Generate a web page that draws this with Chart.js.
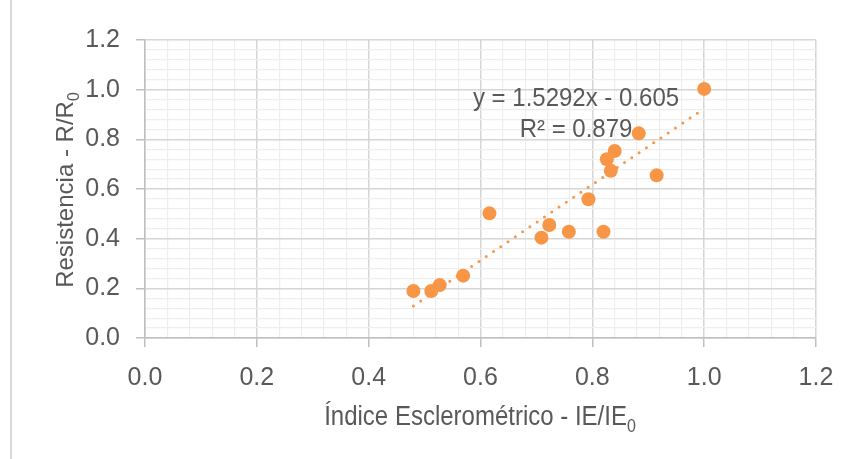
<!DOCTYPE html>
<html><head><meta charset="utf-8">
<script src="https://cdn.jsdelivr.net/npm/chart.js@4.4.1/dist/chart.umd.min.js"></script>
<style>
html,body{margin:0;padding:0;background:#fff;}
#wrap{position:relative;width:847px;height:459px;overflow:hidden;}
#border{position:absolute;left:10px;top:0;width:2px;height:459px;background:#d9d9d9;}
canvas{position:absolute;left:0;top:0;}
</style></head><body>
<div id="wrap"><div id="border"></div><canvas id="c" width="847" height="459"></canvas></div>
<script>
// Measured points (Índice Esclerométrico IE/IE0 vs Resistencia R/R0)
const xValues = [1.0, 0.883, 0.840, 0.826, 0.833, 0.915, 0.793, 0.616, 0.723, 0.709, 0.758, 0.820, 0.569, 0.527, 0.512, 0.480];
const yValues = [1.003, 0.824, 0.753, 0.720, 0.673, 0.655, 0.559, 0.502, 0.455, 0.404, 0.428, 0.428, 0.251, 0.213, 0.189, 0.189];
// Linear trendline end points (y = 1.5292x - 0.605)
const trendX = [0.48, 1.0];
const trendY = [0.129, 0.924];
const xTickLabels = ['0.0', '0.2', '0.4', '0.6', '0.8', '1.0', '1.2'];
const yTickLabels = ['0.0', '0.2', '0.4', '0.6', '0.8', '1.0', '1.2'];
const equationLines = ['y = 1.5292x - 0.605', 'R² = 0.879'];
const xTitleParts = ['Índice Esclerométrico - IE/IE', '0'];
const yTitleParts = ['Resistencia - R/R', '0'];

const TEXT = '#595959';
const ORANGE = '#F79646';
const FONT = "'Liberation Sans', Arial, sans-serif";
const MAJOR = '#d6d6d6', MINOR = '#eeeeee', AXIS = '#bfbfbf';

const points = xValues.map((x, i) => ({x, y: yValues[i]}));
const trend = trendX.map((x, i) => ({x, y: trendY[i]}));

function gridOpts() {
  return {
    color: c => (c.index % 5 === 0 ? MAJOR : MINOR),
    lineWidth: c => (c.index % 5 === 0 ? 1.5 : 1.2),
    tickColor: c => (c.index % 5 === 0 ? AXIS : 'rgba(0,0,0,0)'),
    tickLength: 9,
    tickWidth: 1.5
  };
}

function stretchedText(ctx, txt, x, y, sy) {
  ctx.save();
  ctx.translate(x, y);
  ctx.scale(1, sy);
  ctx.fillText(txt, 0, 0);
  ctx.restore();
}

const textPlugin = {
  id: 'texts',
  afterDraw(chart) {
    const ctx = chart.ctx;
    ctx.save();
    ctx.fillStyle = TEXT;
    ctx.font = '24px ' + FONT;
    ctx.textAlign = 'center';
    ctx.textBaseline = 'alphabetic';
    stretchedText(ctx, equationLines[0], 576, 106, 1.08);
    stretchedText(ctx, equationLines[1], 576, 137, 1.08);
    drawSub(ctx, xTitleParts, 480, 425, 0, 1.15);
    drawSub(ctx, yTitleParts, 73, 190, -Math.PI / 2, 1.0);
    ctx.restore();
  }
};
function drawSub(ctx, parts, cx, by, rot, sy) {
  ctx.save();
  ctx.translate(cx, by);
  ctx.rotate(rot);
  ctx.scale(1, sy);
  ctx.textAlign = 'left';
  ctx.textBaseline = 'alphabetic';
  ctx.font = '24px ' + FONT;
  const w1 = ctx.measureText(parts[0]).width;
  ctx.font = '16px ' + FONT;
  const w2 = ctx.measureText(parts[1]).width;
  const start = -(w1 + w2) / 2;
  ctx.font = '24px ' + FONT;
  ctx.fillText(parts[0], start, 0);
  ctx.font = '16px ' + FONT;
  ctx.fillText(parts[1], start + w1, 6);
  ctx.restore();
}

new Chart(document.getElementById('c'), {
  type: 'scatter',
  data: {
    datasets: [
      {
        data: points,
        backgroundColor: ORANGE,
        borderColor: ORANGE,
        pointRadius: 7,
        pointHoverRadius: 7,
        borderWidth: 0,
        order: 1
      },
      {
        type: 'line',
        data: trend,
        borderColor: ORANGE,
        borderWidth: 3,
        borderDash: [0, 8.8],
        borderCapStyle: 'round',
        pointRadius: 0,
        fill: false,
        order: 2
      }
    ]
  },
  options: {
    responsive: false,
    animation: false,
    devicePixelRatio: 1,
    layout: {padding: {left: 0, right: 31, top: 40, bottom: 0}},
    plugins: {legend: {display: false}, tooltip: {enabled: false}},
    scales: {
      x: {
        type: 'linear', min: 0, max: 1.2,
        afterFit: s => { s.height = 459 - 40 - 298; s.paddingRight = 0; },
        grid: gridOpts(),
        border: {color: AXIS, width: 1.5},
        ticks: {
          stepSize: 0.04, autoSkip: false, maxRotation: 0,
          color: TEXT, font: {family: FONT, size: 25}, padding: 16,
          callback: (v, i) => (i % 5 === 0 ? xTickLabels[i / 5] : '')
        }
      },
      y: {
        type: 'linear', min: 0, max: 1.2,
        afterFit: s => { s.width = 145; s.paddingTop = 0; s.paddingBottom = 0; },
        grid: gridOpts(),
        border: {color: AXIS, width: 1.5},
        ticks: {
          stepSize: 0.04, autoSkip: false,
          color: TEXT, font: {family: FONT, size: 25}, padding: 16,
          callback: (v, i) => (i % 5 === 0 ? yTickLabels[i / 5] : '')
        }
      }
    }
  },
  plugins: [textPlugin]
});
</script>
</body></html>
